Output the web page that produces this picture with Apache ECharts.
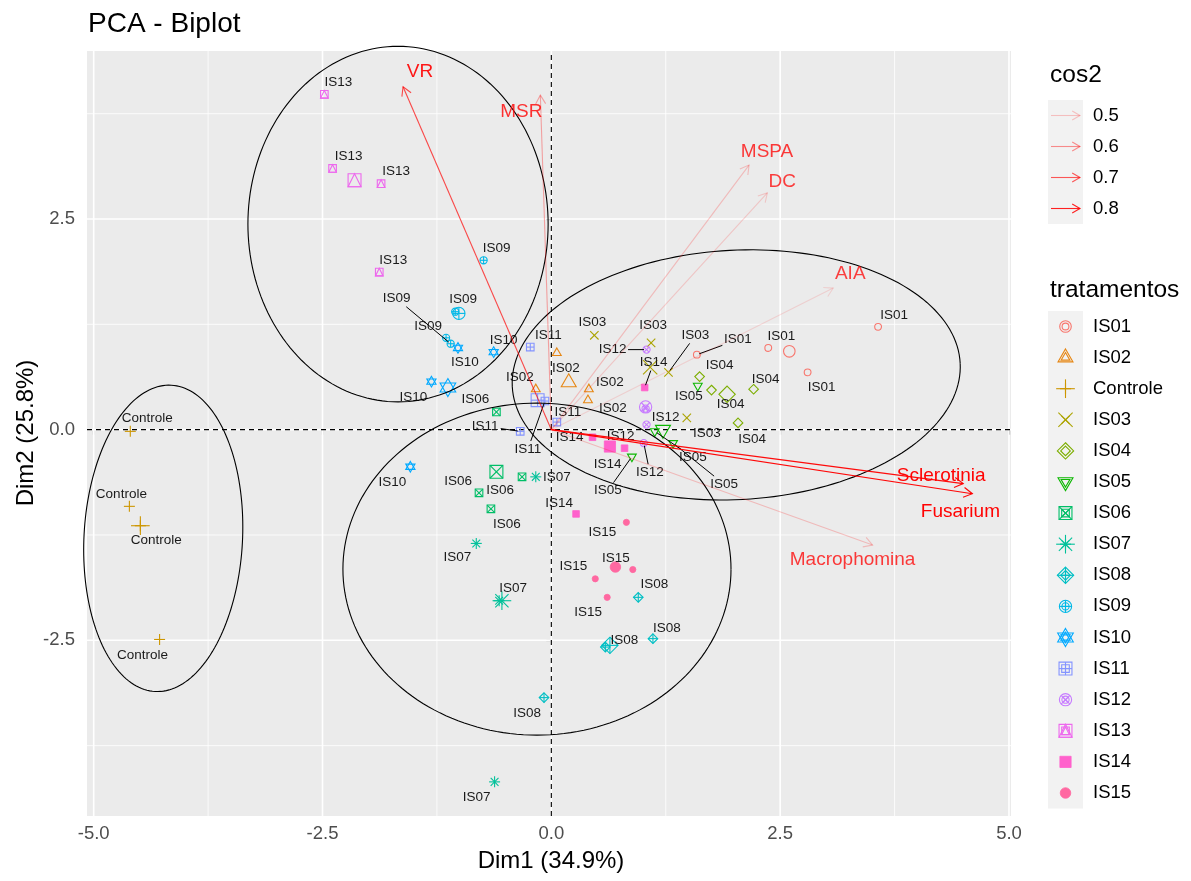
<!DOCTYPE html>
<html>
<head>
<meta charset="UTF-8">
<script type="text/javascript" src="https://cdn.jsdelivr.net/npm/echarts@6.0.0/dist/echarts.min.js"></script>
<title>PCA - Biplot</title>
<style>
	html, body { margin: 0; padding: 0; background: #fff; }
	#main { width: 1191px; height: 881px; }
</style>
</head>
<body>
<div id="main"></div>
<script type="text/javascript">
	// treatments (factor order as in the legend)
	var groups = ['IS01','IS02','Controle','IS03','IS04','IS05','IS06','IS07','IS08','IS09','IS10','IS11','IS12','IS13','IS14','IS15'];
	var groupColors = ['#F8766D','#E68613','#CD9600','#ABA300','#7CAE00','#0CB702','#00BE67','#00C19A','#00BFC4','#00B8E7','#00A9FF','#8494FF','#C77CFF','#ED68ED','#FF61CC','#FF68A1'];
	var groupShapes = [1,2,3,4,5,6,7,8,9,10,11,12,13,14,15,16];

	// individuals: group index, Dim1, Dim2
	var ptGroup = [0,0,0,0, 1,1,1,1, 2,2,2,2, 3,3,3,3, 4,4,4,4, 5,5,5,5, 6,6,6,6, 7,7,7,7,
		8,8,8,8, 9,9,9,9, 10,10,10,10, 11,11,11,11, 12,12,12,12, 13,13,13,13, 14,14,14,14, 15,15,15,15];
	var ptX = [1.59,2.37,2.80,3.57,  0.06,0.41,0.40,-0.17,  -4.60,-4.61,-4.49,-4.28,  0.47,1.09,1.28,1.48,
		1.62,1.75,2.21,2.04,  1.60,1.13,1.33,0.88,  -0.60,-0.32,-0.79,-0.66,  -0.17,-0.82,-0.57,-0.62,
		0.95,1.11,0.59,-0.08,  -0.74,-1.15,-1.10,-1.05,  -1.02,-0.63,-1.31,-1.54,  -0.23,0.06,-0.34,-0.07,
		1.04,1.04,1.01,1.03,  -2.48,-2.39,-1.86,-1.88,  1.02,0.45,0.80,0.27,  0.82,0.89,0.48,0.61];
	var ptY = [0.89,0.97,0.68,1.22,  0.91,0.48,0.35,0.48,  -0.02,-0.91,-1.14,-2.49,  1.12,1.03,0.68,0.14,
		0.63,0.47,0.48,0.08,  0.52,-0.02,-0.16,-0.32,  0.21,-0.56,-0.75,-0.94,  -0.56,-1.35,-2.03,-4.18,
		-1.99,-2.48,-2.58,-3.18,  2.01,1.09,1.02,1.40,  0.97,0.92,0.57,-0.44,  0.98,0.09,-0.02,0.34,
		0.95,0.06,-0.16,0.25,  3.98,3.10,2.92,1.87,  0.50,-0.09,-0.22,-1.00,  -1.10,-1.66,-1.77,-1.99];

	// group mean points
	var meanX = [2.60,0.19,-4.49,1.08,1.92,1.22,-0.60,-0.54,0.64,-1.01,-1.13,-0.15,1.03,-2.15,0.64,0.70];
	var meanY = [0.93,0.56,-1.14,0.74,0.42,0.00,-0.50,-2.03,-2.56,1.38,0.50,0.35,0.27,2.96,-0.20,-1.63];

	// variables
	var varNames = ['VR','MSR','MSPA','DC','AIA','Sclerotinia','Fusarium','Macrophomina'];
	var varX = [-1.62,-0.12,2.16,2.36,3.08,4.50,4.60,3.51];
	var varY = [4.07,3.97,3.14,2.81,1.68,-0.64,-0.76,-1.37];
	var varCos2 = [0.72,0.55,0.50,0.48,0.46,0.84,0.85,0.50];
	var cos2Breaks = [0.5,0.6,0.7,0.8];

	// ellipses: centre, semi axes, tilt (degrees)
	var ellX = [-1.675,-4.24,2.02,-0.157];
	var ellY = [2.44,-1.29,0.65,-1.655];
	var ellRx = [1.64,0.866,2.45,2.12];
	var ellRy = [2.11,1.82,1.48,1.97];
	var ellRot = [0,-3,3,0];

	// axes
	var xTicks = [-5,-2.5,0,2.5,5];
	var yTicks = [-2.5,0,2.5];
	var xMinor = [-3.75,-1.25,1.25,3.75];
	var yMinor = [-3.75,-1.25,1.25,3.75];
	var XMIN = -5.073, XMAX = 5.022, YMIN = -4.585, YMAX = 4.494;

	// label placement (pixels from the point), seg = draw leader line
	var lblDx = [41,13,14,16, 9,21,25,-16, 17,-8,16,-17, -2,2,27,20, 20,19,12,14, -9,38,51,-24,
		-21,-22,-21,16, 21,-19,14,-18, 16,14,19,-17, 13,-18,-54,8, 7,10,-18,-18, 18,11,-35,-17,
		-34,19,6,-25, 14,16,15,14, 9,-23,-17,-17, -24,-17,-22,-19];
	var lblDy = [-15,-12,15,-12, 15,-7,8,-12, -13,-12,15,16, -13,-18,-37,15, -11,14,-10,16, 10,26,41,34,
		-13,13,-12,15, 0,14,-12,15, -13,-10,-7,16, -12,-12,-45,-12, 14,-12,16,16, -12,-10,-5,48,
		0,-7,29,28, -12,-12,-12,-12, -25,0,16,-11, 10,-11,-13,15];
	var lblSeg = [1,0,0,0, 0,0,0,0, 0,0,0,0, 0,0,1,0, 0,0,0,0, 0,1,1,1,
		0,0,0,0, 0,0,0,0, 0,0,0,0, 0,0,1,0, 0,0,0,0, 0,0,1,1,
		1,0,1,0, 0,0,0,0, 1,0,0,0, 0,0,0,0];
	var varLblDx = [17,-19,18,15,17,-22,-12,-20];
	var varLblDy = [-15,17,-13,-11,-14,-8,18,15];

	var FONT = '"Liberation Sans", Arial, sans-serif';

	function cos2Alpha(c){
		var a = 0.1 + 0.9 * (c - 0.45) / (0.86 - 0.45);
		return Math.max(0.1, Math.min(1, a));
	}

	// R pch symbols
	function pchEls(pch, cx, cy, f, color){
		var st = {stroke: color, fill: 'none', lineWidth: 1.1};
		var fst = {stroke: color, fill: color, lineWidth: 0.8};
		var els = [];
		function ln(x1, y1, x2, y2){ els.push({type: 'line', shape: {x1: x1, y1: y1, x2: x2, y2: y2}, style: st}); }
		function circ(r){ els.push({type: 'circle', shape: {cx: cx, cy: cy, r: r}, style: st}); }
		function poly(p){ els.push({type: 'polygon', shape: {points: p}, style: st}); }
		function sq(h){ els.push({type: 'rect', shape: {x: cx - h, y: cy - h, width: 2 * h, height: 2 * h}, style: st}); }
		function plus(h){ ln(cx - h, cy, cx + h, cy); ln(cx, cy - h, cx, cy + h); }
		function cross(h){ ln(cx - h, cy - h, cx + h, cy + h); ln(cx - h, cy + h, cx + h, cy - h); }
		function tri(h, dir){
			var t = h * 1.155, b = h * 0.577;
			poly([[cx, cy - dir * t], [cx + h, cy + dir * b], [cx - h, cy + dir * b]]);
		}
		function diamond(r){ poly([[cx, cy - r], [cx + r, cy], [cx, cy + r], [cx - r, cy]]); }
		var r;
		switch (pch) {
			case 1: circ(3.4 * f); break;
			case 2: tri(4.4 * f, 1); break;
			case 3: plus(5.5 * f); break;
			case 4: cross(4.2 * f); break;
			case 5: diamond(4.8 * f); break;
			case 6: tri(4.4 * f, -1); break;
			case 7: r = 3.8 * f; sq(r); cross(r); break;
			case 8: plus(5.5 * f); cross(3.9 * f); break;
			case 9: r = 4.8 * f; diamond(r); plus(r); break;
			case 10: r = 3.6 * f; circ(r); plus(r); break;
			case 11: tri(4.6 * f, 1); tri(4.6 * f, -1); break;
			case 12: r = 3.8 * f; sq(r); plus(r); break;
			case 13: r = 3.6 * f; circ(r); cross(r * 0.72); break;
			case 14: r = 3.8 * f; sq(r); poly([[cx, cy - r], [cx + r, cy + r], [cx - r, cy + r]]); break;
			case 15: r = 3.3 * f; els.push({type: 'rect', shape: {x: cx - r, y: cy - r, width: 2 * r, height: 2 * r}, style: fst}); break;
			case 16: els.push({type: 'circle', shape: {cx: cx, cy: cy, r: 3.1 * f}, style: fst}); break;
		}
		return els;
	}

	function arrowHead(x0, y0, x1, y1, len){
		var a = Math.atan2(y1 - y0, x1 - x0), s = Math.PI / 6;
		return [[x1 - len * Math.cos(a - s), y1 - len * Math.sin(a - s)], [x1, y1],
			[x1 - len * Math.cos(a + s), y1 - len * Math.sin(a + s)]];
	}

	function txt(text, x, y, font, fill, align){
		return {type: 'text', style: {text: text, x: x, y: y, font: font, fill: fill,
			align: align || 'center', verticalAlign: 'middle',
			textAlign: align || 'center', textVerticalAlign: 'middle'}};
	}

	var pointData = [], labelData = [], meanData = [];
	for (var i = 0; i < ptX.length; i++) {
		pointData.push([ptX[i], ptY[i], ptGroup[i], 1]);
		labelData.push([ptX[i], ptY[i], i]);
	}
	for (var g = 0; g < groups.length; g++) {
		meanData.push([meanX[g], meanY[g], g, 1.7]);
	}
	var ellData = ellX.map(function(v, k){ return [v, ellY[k], k]; });
	var varData = varX.map(function(v, k){ return [v, varY[k], k]; });

	// legend (drawn as graphics)
	var legendEls = [];
	legendEls.push(txt('cos2', 1050, 75, '24.5px ' + FONT, '#000', 'left'));
	legendEls.push({type: 'rect', shape: {x: 1048, y: 100, width: 35, height: 124}, style: {fill: '#F2F2F2'}});
	cos2Breaks.forEach(function(b, k){
		var y = 115.5 + k * 31;
		var col = 'rgba(255,0,0,' + cos2Alpha(b).toFixed(3) + ')';
		legendEls.push({type: 'line', shape: {x1: 1051, y1: y, x2: 1080, y2: y}, style: {stroke: col, lineWidth: 1.1}});
		legendEls.push({type: 'polyline', shape: {points: arrowHead(1051, y, 1080, y, 9)}, style: {stroke: col, fill: 'none', lineWidth: 1.1}});
		legendEls.push(txt(b.toFixed(1), 1093, y, '18.5px ' + FONT, '#000', 'left'));
	});
	legendEls.push(txt('tratamentos', 1050, 290, '24.5px ' + FONT, '#000', 'left'));
	legendEls.push({type: 'rect', shape: {x: 1048, y: 311, width: 35, height: 16 * 31.1}, style: {fill: '#F2F2F2'}});
	groups.forEach(function(name, k){
		var y = 326.5 + k * 31.1;
		pchEls(groupShapes[k], 1065.5, y, 1, groupColors[k]).forEach(function(e){ legendEls.push(e); });
		pchEls(groupShapes[k], 1065.5, y, 1.7, groupColors[k]).forEach(function(e){ legendEls.push(e); });
		legendEls.push(txt(name, 1093, y, '18.5px ' + FONT, '#000', 'left'));
	});
	legendEls.push(txt('PCA - Biplot', 88, 24, '28px ' + FONT, '#000', 'left'));
	legendEls.push(txt('Dim1 (34.9%)', 551, 861, '24px ' + FONT, '#000', 'center'));
	var yTitle = txt('Dim2 (25.8%)', 0, 0, '24px ' + FONT, '#000', 'center');
	yTitle.x = 26; yTitle.y = 433; yTitle.rotation = Math.PI / 2;
	legendEls.push(yTitle);

	var option = {
		animation: false,
		backgroundColor: '#fff',
		grid: {left: 87, top: 51, width: 924, height: 765, show: true, backgroundColor: '#EBEBEB',
			borderWidth: 0, containLabel: false, outerBoundsMode: 'none'},
		xAxis: {
			type: 'value', min: XMIN, max: XMAX, minInterval: 2.5, maxInterval: 2.5,
			axisLine: {show: false},
			axisTick: {show: true, length: 5, lineStyle: {color: '#333333', width: 1.1}, customValues: xTicks},
			axisLabel: {customValues: xTicks, color: '#4D4D4D', fontSize: 18.5, fontFamily: FONT, margin: 8,
				formatter: function(v){ return v.toFixed(1); }},
			splitLine: {show: false}
		},
		yAxis: {
			type: 'value', min: YMIN, max: YMAX, minInterval: 2.5, maxInterval: 2.5,
			axisLine: {show: false},
			axisTick: {show: true, length: 5, lineStyle: {color: '#333333', width: 1.1}, customValues: yTicks},
			axisLabel: {customValues: yTicks, color: '#4D4D4D', fontSize: 18.5, fontFamily: FONT, margin: 12,
				formatter: function(v){ return v.toFixed(1); }},
			splitLine: {show: false}
		},
		graphic: {elements: legendEls},
		series: [
			{
				// panel grid lines
				type: 'custom', z: 1, silent: true, data: [[0, 0]],
				renderItem: function(params, api){
					var ch = [];
					function vline(v, w){
						var a = api.coord([v, YMIN]), b = api.coord([v, YMAX]);
						ch.push({type: 'line', shape: {x1: a[0], y1: a[1], x2: b[0], y2: b[1]}, style: {stroke: '#fff', lineWidth: w}});
					}
					function hline(v, w){
						var a = api.coord([XMIN, v]), b = api.coord([XMAX, v]);
						ch.push({type: 'line', shape: {x1: a[0], y1: a[1], x2: b[0], y2: b[1]}, style: {stroke: '#fff', lineWidth: w}});
					}
					xMinor.forEach(function(v){ vline(v, 0.8); });
					yMinor.forEach(function(v){ hline(v, 0.8); });
					xTicks.forEach(function(v){ vline(v, 1.6); });
					yTicks.forEach(function(v){ hline(v, 1.6); });
					return {type: 'group', children: ch};
				}
			},
			{
				// dashed reference lines
				type: 'custom', z: 2, silent: true, data: [[0, 0]],
				renderItem: function(params, api){
					var a = api.coord([0, YMIN]), b = api.coord([0, YMAX]);
					var c = api.coord([XMIN, 0]), d = api.coord([XMAX, 0]);
					var st = {stroke: '#000', lineWidth: 1.1, lineDash: [5, 4]};
					return {type: 'group', children: [
						{type: 'line', shape: {x1: a[0], y1: a[1], x2: b[0], y2: b[1]}, style: st},
						{type: 'line', shape: {x1: c[0], y1: c[1], x2: d[0], y2: d[1]}, style: st}
					]};
				}
			},
			{
				type: 'custom', z: 3, silent: true, data: pointData,
				renderItem: function(params, api){
					var p = api.coord([api.value(0), api.value(1)]);
					var g = api.value(2);
					return {type: 'group', children: pchEls(groupShapes[g], p[0], p[1], api.value(3), groupColors[g])};
				}
			},
			{
				type: 'custom', z: 3, silent: true, data: meanData,
				renderItem: function(params, api){
					var p = api.coord([api.value(0), api.value(1)]);
					var g = api.value(2);
					return {type: 'group', children: pchEls(groupShapes[g], p[0], p[1], api.value(3), groupColors[g])};
				}
			},
			{
				// individual labels
				type: 'custom', z: 4, silent: true, data: labelData,
				renderItem: function(params, api){
					var p = api.coord([api.value(0), api.value(1)]);
					var i = api.value(2);
					var name = groups[ptGroup[i]];
					var lx = p[0] + lblDx[i], ly = p[1] + lblDy[i];
					var ch = [txt(name, lx, ly, '13.5px ' + FONT, '#1A1A1A', 'center')];
					if (lblSeg[i]) {
						var hw = (name === 'Controle' ? 52 : 29) / 2 + 1, hh = 8;
						var dx = p[0] - lx, dy = p[1] - ly;
						var t = Math.min(dx !== 0 ? hw / Math.abs(dx) : 9, dy !== 0 ? hh / Math.abs(dy) : 9);
						var len = Math.sqrt(dx * dx + dy * dy);
						var e = 1 - 2.5 / len;
						ch.push({type: 'line', shape: {x1: lx + dx * t, y1: ly + dy * t, x2: lx + dx * e, y2: ly + dy * e},
							style: {stroke: '#000', lineWidth: 1}});
					}
					return {type: 'group', children: ch};
				}
			},
			{
				type: 'custom', z: 5, silent: true, data: ellData,
				renderItem: function(params, api){
					var k = api.value(2);
					var c = api.coord([api.value(0), api.value(1)]);
					var a = api.size([ellRx[k], 0])[0], b = api.size([0, ellRy[k]])[1];
					var phi = ellRot[k] * Math.PI / 180;
					var pts = [];
					for (var s = 0; s <= 180; s++) {
						var t = s / 180 * 2 * Math.PI;
						var ex = a * Math.cos(t), ey = b * Math.sin(t);
						pts.push([c[0] + ex * Math.cos(phi) - ey * Math.sin(phi), c[1] - (ex * Math.sin(phi) + ey * Math.cos(phi))]);
					}
					return {type: 'polyline', shape: {points: pts}, style: {stroke: '#000', fill: 'none', lineWidth: 1.1}};
				}
			},
			{
				type: 'custom', z: 6, silent: true, data: varData,
				renderItem: function(params, api){
					var k = api.value(2);
					var o = api.coord([0, 0]);
					var p = api.coord([api.value(0), api.value(1)]);
					var al = cos2Alpha(varCos2[k]);
					var col = 'rgba(255,0,0,' + al.toFixed(3) + ')';
					var tcol = 'rgba(255,0,0,' + (0.7 + 0.3 * al).toFixed(3) + ')';
					return {type: 'group', children: [
						{type: 'line', shape: {x1: o[0], y1: o[1], x2: p[0], y2: p[1]}, style: {stroke: col, lineWidth: 1.1}},
						{type: 'polyline', shape: {points: arrowHead(o[0], o[1], p[0], p[1], 10)}, style: {stroke: col, fill: 'none', lineWidth: 1.1}},
						txt(varNames[k], p[0] + varLblDx[k], p[1] + varLblDy[k], '19px ' + FONT, tcol, 'center')
					]};
				}
			}
		]
	};

	var myChart = echarts.init(document.getElementById('main'), null, {renderer: 'canvas'});
	myChart.setOption(option);
</script>
</body>
</html>
